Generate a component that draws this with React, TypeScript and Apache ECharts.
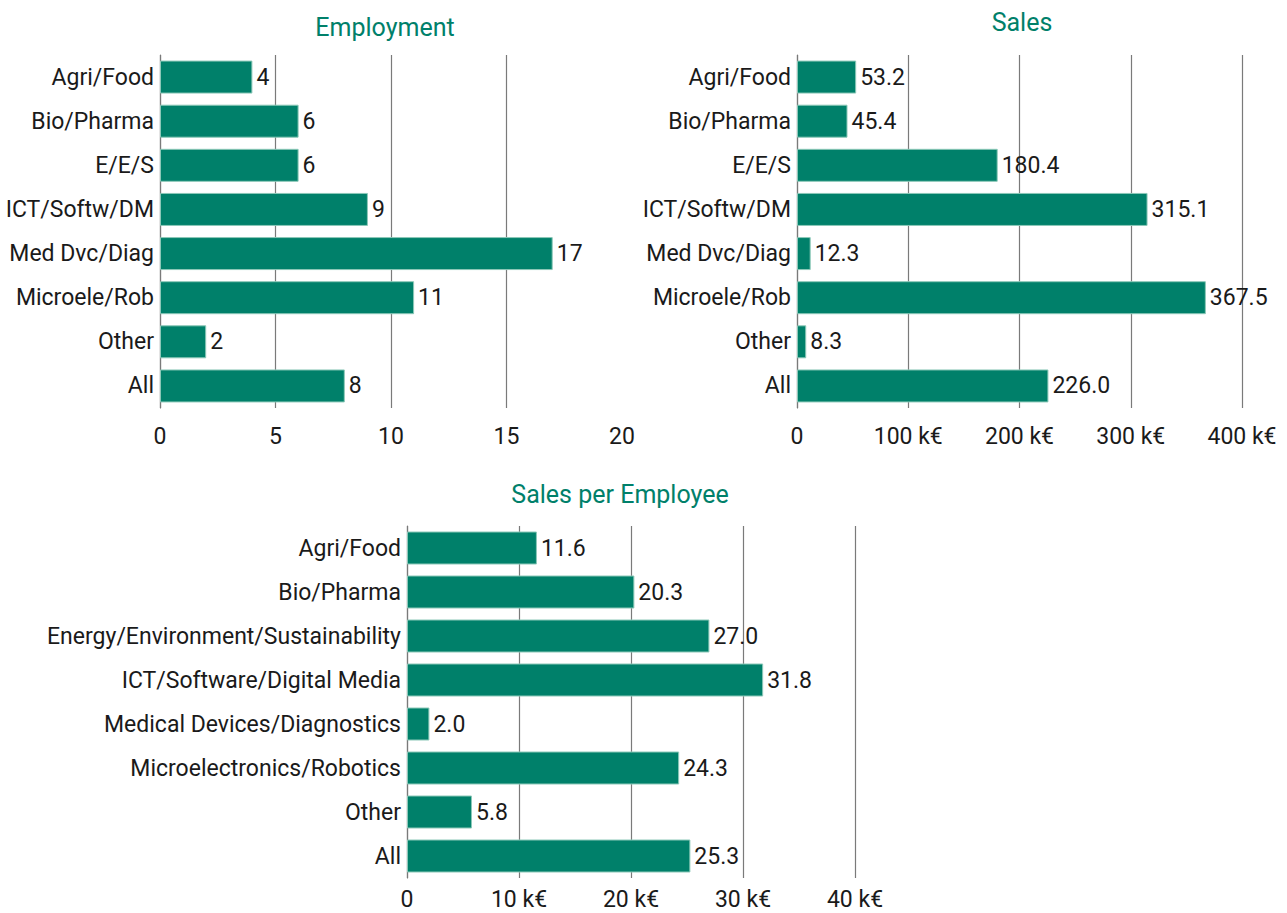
import React, { useEffect, useRef } from "react";
import * as echarts from "echarts";

const shortCategories = ["Agri/Food", "Bio/Pharma", "E/E/S", "ICT/Softw/DM", "Med Dvc/Diag", "Microele/Rob", "Other", "All"];
const longCategories = [
  "Agri/Food",
  "Bio/Pharma",
  "Energy/Environment/Sustainability",
  "ICT/Software/Digital Media",
  "Medical Devices/Diagnostics",
  "Microelectronics/Robotics",
  "Other",
  "All",
];
const employment = [4, 6, 6, 9, 17, 11, 2, 8];
const sales = [53.2, 45.4, 180.4, 315.1, 12.3, 367.5, 8.3, 226.0];
const salesPerEmployee = [11.6, 20.3, 27.0, 31.8, 2.0, 24.3, 5.8, 25.3];
const titles = ["Employment", "Sales", "Sales per Employee"];

const FONT = "Roboto, 'Noto Sans', sans-serif";
const TEXT = "#1a1a1a";
const GRID = "#7a7a7a";
const GREEN = "#00806A";
const FS = 23;
const TFS = 25;

export default function App() {
  const ref = useRef<HTMLDivElement>(null);
  useEffect(() => {
    if (!ref.current) return;
    const chart = echarts.init(ref.current, undefined, { renderer: "svg" });
    const grids = [
      { left: 160, top: 55, width: 462, height: 353 },
      { left: 797, top: 55, width: 445, height: 353 },
      { left: 407, top: 526, width: 448, height: 352 },
    ];
    const xMax = [20, 400, 40];
    const xInt = [5, 100, 10];
    const kEuro = [false, true, true];
    const showMax = [false, true, true];
    const labelMargin = [17, 17, 10];
    const cats = [shortCategories, shortCategories, longCategories];
    const data = [employment, sales, salesPerEmployee];
    const decimals = [0, 1, 1];

    const option: any = {
      animation: false,
      backgroundColor: "#ffffff",
      textStyle: { fontFamily: FONT },
      grid: grids.map((g) => ({ ...g, containLabel: false })),
      graphic: [
        { type: "text", x: 385, y: 27, style: { text: titles[0], fill: GREEN, font: `${TFS}px ${FONT}`, textAlign: "center", textVerticalAlign: "middle" } },
        { type: "text", x: 1022, y: 22, style: { text: titles[1], fill: GREEN, font: `${TFS}px ${FONT}`, textAlign: "center", textVerticalAlign: "middle" } },
        { type: "text", x: 620, y: 494, style: { text: titles[2], fill: GREEN, font: `${TFS}px ${FONT}`, textAlign: "center", textVerticalAlign: "middle" } },
      ],
      xAxis: grids.map((_, i) => ({
        type: "value",
        gridIndex: i,
        min: 0,
        max: xMax[i],
        interval: xInt[i],
        axisLine: { show: false },
        axisTick: { show: false },
        axisLabel: {
          color: TEXT,
          fontSize: FS,
          lineHeight: FS,
          fontFamily: FONT,
          margin: labelMargin[i],
          formatter: (v: number) => (kEuro[i] && v !== 0 ? `${v} k€` : `${v}`),
        },
        splitLine: { show: true, showMinLine: true, showMaxLine: showMax[i], lineStyle: { color: GRID, width: 1.2 } },
      })),
      yAxis: grids.map((_, i) => ({
        type: "category",
        gridIndex: i,
        inverse: true,
        data: cats[i],
        axisLine: { show: true, lineStyle: { color: GRID, width: 1.2 } },
        axisTick: { show: false },
        axisLabel: { color: TEXT, fontSize: FS, fontFamily: FONT, margin: 6 },
      })),
      series: grids.map((_, i) => ({
        type: "bar",
        xAxisIndex: i,
        yAxisIndex: i,
        data: data[i],
        barWidth: 33,
        itemStyle: { color: GREEN, borderColor: "#8cc8b8", borderWidth: 1 },
        label: {
          show: true,
          position: "right",
          distance: 4,
          color: TEXT,
          fontSize: FS,
          fontFamily: FONT,
          formatter: (p: any) => Number(p.value).toFixed(decimals[i]),
        },
      })),
    };
    chart.setOption(option);
    return () => chart.dispose();
  }, []);
  return <div ref={ref} style={{ position: "fixed", left: 0, top: 0, width: 1287, height: 913 }} />;
}
